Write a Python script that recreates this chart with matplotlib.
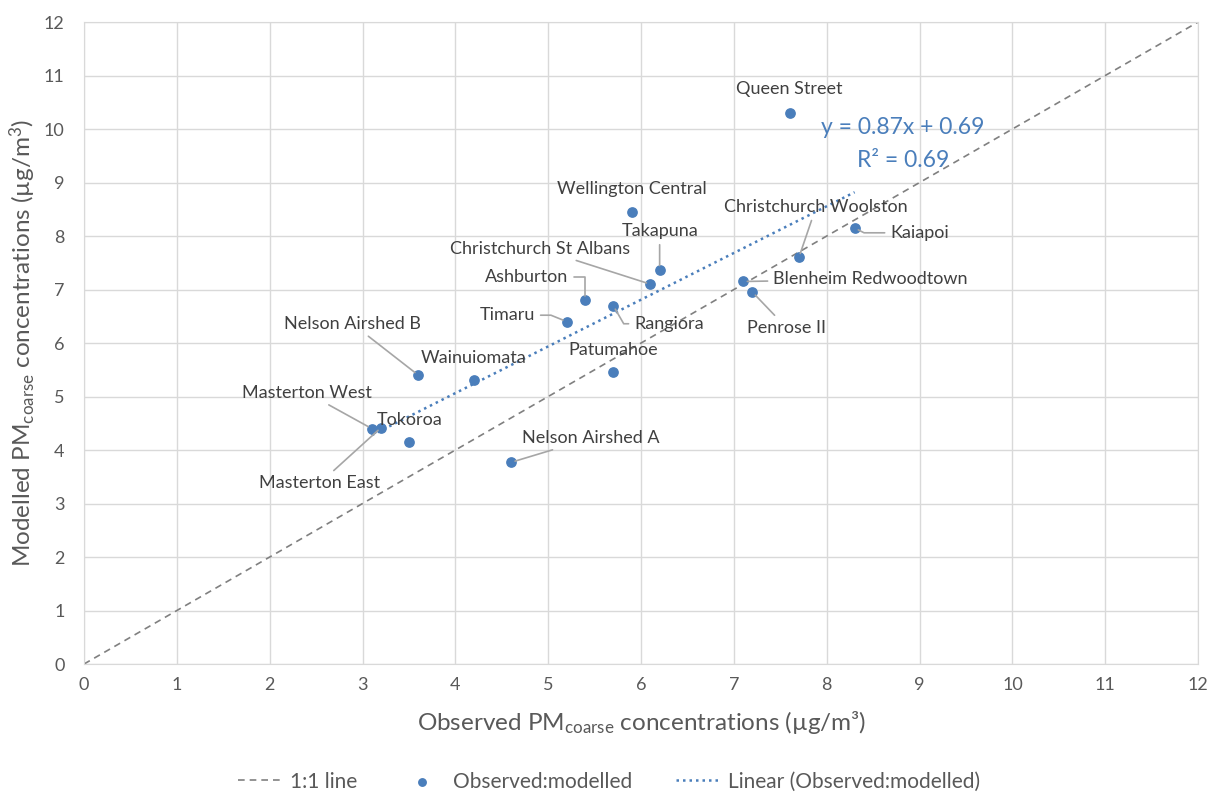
import matplotlib
matplotlib.use('Agg')
import matplotlib.pyplot as plt
import numpy as np

plt.rcParams['font.family'] = ['Lato', 'DejaVu Sans']
plt.rcParams['mathtext.default'] = 'regular'

# sitios y valores (observado, modelado)
sitios = ['Queen Street', 'Wellington Central', 'Takapuna', 'Christchurch St Albans',
          'Ashburton', 'Rangiora', 'Timaru', 'Kaiapoi', 'Christchurch Woolston',
          'Blenheim Redwoodtown', 'Penrose II', 'Nelson Airshed B', 'Wainuiomata',
          'Patumahoe', 'Masterton West', 'Masterton East', 'Tokoroa', 'Nelson Airshed A']
observado = [7.6, 5.9, 6.2, 6.1, 5.4, 5.7, 5.2, 8.3, 7.7, 7.1, 7.2, 3.6, 4.2, 5.7, 3.1, 3.2, 3.5, 4.6]
modelado = [10.3, 8.45, 7.37, 7.1, 6.8, 6.7, 6.4, 8.15, 7.6, 7.15, 6.95, 5.4, 5.3, 5.45, 4.4, 4.42, 4.15, 3.77]

# posiciones de las etiquetas (en unidades de datos) y estilo de la linea guia
etiqueta_xy = {
    'Queen Street': (7.6, 10.75, None),
    'Wellington Central': (5.9, 8.88, None),
    'Takapuna': (6.2, 8.09, 'arc3'),
    'Christchurch St Albans': (4.91, 7.76, 'arc3'),
    'Ashburton': (4.77, 7.23, 'angle,angleA=0,angleB=90,rad=0'),
    'Rangiora': (6.3, 6.36, 'angle,angleA=0,angleB=-60,rad=0'),
    'Timaru': (4.56, 6.52, 'angle,angleA=0,angleB=-22,rad=0'),
    'Kaiapoi': (9.0, 8.06, 'angle,angleA=0,angleB=-27,rad=0'),
    'Christchurch Woolston': (7.885, 8.54, 'arc3'),
    'Blenheim Redwoodtown': (8.47, 7.19, 'arc3'),
    'Penrose II': (7.57, 6.28, 'arc3'),
    'Nelson Airshed B': (2.89, 6.36, 'arc3'),
    'Wainuiomata': (4.2, 5.72, None),
    'Patumahoe': (5.7, 5.87, None),
    'Masterton West': (2.4, 5.07, 'arc3'),
    'Masterton East': (2.54, 3.38, 'arc3'),
    'Tokoroa': (3.51, 4.56, None),
    'Nelson Airshed A': (5.46, 4.22, 'arc3'),
}

azul = '#4A7EBB'
gris = '#595959'

fig = plt.figure(figsize=(12.09, 7.92), dpi=100)
ax = fig.add_axes([0.0695, 0.1616, 0.9215, 0.8106])

ax.plot([0, 12], [0, 12], color='#808080', linestyle=(0, (4, 3)), linewidth=1.2, label='1:1 line', zorder=2)
ax.scatter(observado, modelado, s=45, color=azul, label='Observed:modelled', zorder=4)

# linea de tendencia
m, b = np.polyfit(observado, modelado, 1)
xs = np.array([min(observado), max(observado)])
ax.plot(xs, m * xs + b, color=azul, linestyle=(0, (1, 1.6)), linewidth=1.8,
        label='Linear (Observed:modelled)', zorder=3)

for s, xo, yo in zip(sitios, observado, modelado):
    tx, ty, estilo = etiqueta_xy[s]
    if estilo is None:
        ax.text(tx, ty, s, ha='center', va='center', fontsize=13, color='#404040', zorder=5)
    else:
        ax.annotate(s, xy=(xo, yo), xytext=(tx, ty), ha='center', va='center',
                    fontsize=13, color='#404040', zorder=5,
                    arrowprops=dict(arrowstyle='-', color='#A6A6A6', lw=1.2,
                                    connectionstyle=estilo, shrinkA=2, shrinkB=3))

ax.text(8.82, 10.02, 'y = 0.87x + 0.69', ha='center', va='center', fontsize=16.5, color=azul, zorder=5)
ax.text(8.82, 9.42, 'R² = 0.69', ha='center', va='center', fontsize=16.5, color=azul, zorder=5)

ax.set_xlim(0, 12)
ax.set_ylim(0, 12)
ax.set_xticks(range(0, 13))
ax.set_yticks(range(0, 13))
ax.grid(color='#D9D9D9', linewidth=1)
ax.set_axisbelow(True)
for sp in ax.spines.values():
    sp.set_color('#D9D9D9')
ax.tick_params(length=0, labelsize=13, colors=gris)
ax.tick_params(axis='x', pad=9)
ax.tick_params(axis='y', pad=14)

ax.set_xlabel('Observed PM$_{coarse}$ concentrations (µg/m³)', fontsize=17.5, color=gris, labelpad=12)
ax.set_ylabel('Modelled PM$_{coarse}$ concentrations (µg/m$^3$)', fontsize=17.5, color=gris, labelpad=4)

fig.legend(loc='center', bbox_to_anchor=(609 / 1209, 0.013), ncol=3, frameon=False,
           fontsize=15, labelcolor=gris, columnspacing=2.1, handlelength=2.05,
           handletextpad=0.45, markerscale=0.8)

plt.savefig('out.png', dpi=100)
